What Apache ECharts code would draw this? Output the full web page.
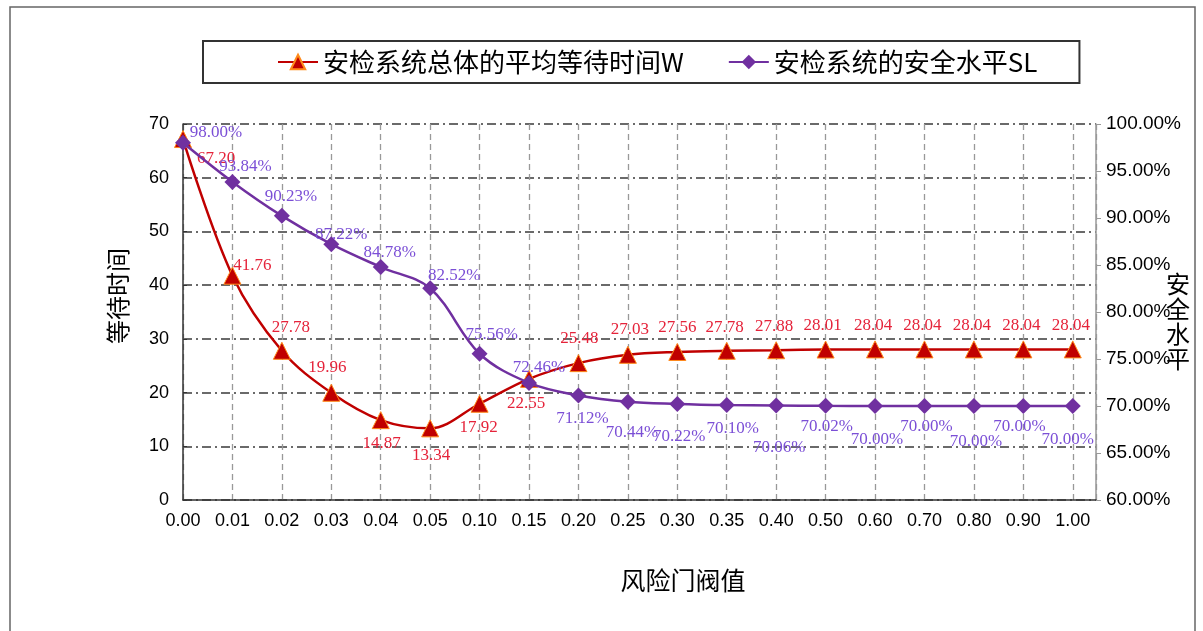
<!DOCTYPE html>
<html>
<head>
<meta charset="utf-8">
<script src="https://cdn.jsdelivr.net/npm/echarts@6/dist/echarts.min.js"></script>
<style>
  html, body { margin: 0; padding: 0; background: #fff; }
  #chart { width: 1203px; height: 631px; }
</style>
</head>
<body>
<div id="chart"></div>
<script>
// Risk threshold categories (x axis)
const thresholds = ['0.00','0.01','0.02','0.03','0.04','0.05','0.10','0.15','0.20','0.25',
                    '0.30','0.35','0.40','0.50','0.60','0.70','0.80','0.90','1.00'];
// Average waiting time of the whole screening system (left axis)
const waitTime = [67.20, 41.76, 27.78, 19.96, 14.87, 13.34, 17.92, 22.55, 25.48, 27.03,
                  27.56, 27.78, 27.88, 28.01, 28.04, 28.04, 28.04, 28.04, 28.04];
// Security level of the screening system, in percent (right axis)
const safetyLevel = [98.00, 93.84, 90.23, 87.22, 84.78, 82.52, 75.56, 72.46, 71.12, 70.44,
                     70.22, 70.10, 70.06, 70.02, 70.00, 70.00, 70.00, 70.00, 70.00];

const seriesNames = ['安检系统总体的平均等待时间W', '安检系统的安全水平SL'];

// Label placement tweaks (pixel offsets from each marker)
const waitLabelOffset = [[33,19],[20,-10],[9,-23],[-4,-25],[1,23],[1,27],[-1,24],[-3,25],[1,-25],[2,-25],
                         [0,-24],[-2,-23],[-2,-24],[-3,-24],[-2,-24],[-2,-24],[-2,-24],[-2,-24],[-2,-24]];
const levelLabelOffset = [[33,-10],[13,-15],[9,-19],[10,-10],[9,-15],[24,-13],[12,-19],[10,-15],[4,23],[4,31],
                          [2,33],[6,23],[3,42],[1,21],[2,34],[2,21],[2,36],[-4,21],[-5,34]];

const chart = echarts.init(document.getElementById('chart'), null, { renderer: 'canvas' });

const axisFont = { fontFamily: 'Liberation Sans', fontSize: 18, color: '#000' };
const cjk = 'Noto Sans CJK SC';

function isWhole(v) { return Math.abs(v - Math.round(v)) < 1e-6; }

chart.setOption({
  animation: false,
  backgroundColor: '#fff',
  graphic: [
    { type: 'rect', shape: { x: 10, y: 7, width: 1185, height: 640 },
      style: { fill: 'none', stroke: '#666', lineWidth: 1.5 }, z: -1 },
    { type: 'text', x: 118, y: 296, rotation: Math.PI / 2,
      style: { text: '等待时间', font: '24px "' + cjk + '"', fill: '#000', align: 'center', verticalAlign: 'middle' } },
    { type: 'text', x: 1178, y: 321,
      style: { text: '安\n全\n水\n平', font: '24px "' + cjk + '"', lineHeight: 25, fill: '#000', align: 'center', verticalAlign: 'middle' } },
    { type: 'text', x: 683, y: 580,
      style: { text: '风险门阀值', font: '25px "' + cjk + '"', fill: '#000', align: 'center', verticalAlign: 'middle' } }
  ],
  legend: {
    data: seriesNames,
    left: 203, top: 41,
    borderColor: '#333', borderWidth: 2,
    padding: [8, 42, 8, 74],
    itemGap: 44, itemWidth: 40, itemHeight: 18,
    textStyle: { fontFamily: cjk, fontSize: 26, color: '#000' }
  },
  grid: { left: 183, right: 107, top: 124, bottom: 131, containLabel: false },
  xAxis: {
    type: 'value', min: 0, max: 18.47, interval: 1,
    axisLine: { lineStyle: { color: '#333', width: 1.5 } },
    axisTick: { show: false },
    axisLabel: Object.assign({}, axisFont, {
      margin: 12,
      showMaxLabel: false,
      formatter: v => isWhole(v) && thresholds[Math.round(v)] !== undefined ? thresholds[Math.round(v)] : ''
    }),
    splitLine: { show: true, lineStyle: { color: '#999', width: 1.3, type: [6, 4] } }
  },
  yAxis: [
    {
      type: 'value', min: 0, max: 70, interval: 10,
      axisLine: { show: true, lineStyle: { color: '#333', width: 1.5 } },
      axisTick: { show: true, inside: true, length: 4, lineStyle: { color: '#333' } },
      axisLabel: Object.assign({}, axisFont, { margin: 14 }),
      splitLine: { show: true, lineStyle: { color: '#3a3a3a', width: 1.5, type: [9, 4, 2, 4] } }
    },
    {
      type: 'value', min: 60, max: 100, interval: 5, position: 'right',
      axisLine: { show: true, lineStyle: { color: '#999', width: 1.5 } },
      axisTick: { show: true, length: 5, lineStyle: { color: '#999' } },
      axisLabel: Object.assign({}, axisFont, { fontSize: 19, margin: 10, formatter: v => v.toFixed(2) + '%' }),
      splitLine: { show: false }
    }
  ],
  series: [
    {
      name: seriesNames[0], type: 'line', yAxisIndex: 0, smooth: 0.35,
      symbol: 'triangle', symbolSize: 17,
      lineStyle: { color: '#c00000', width: 2.5 },
      itemStyle: { color: '#c00000', borderColor: '#ff8a1a', borderWidth: 1 },
      label: {
        show: true, position: 'inside',
        fontFamily: 'Liberation Serif', fontSize: 17, color: '#e5233a',
        formatter: p => p.value[1].toFixed(2)
      },
      data: waitTime.map((v, i) => ({ value: [i, v], label: { offset: waitLabelOffset[i] } })),
      z: 3
    },
    {
      name: seriesNames[1], type: 'line', yAxisIndex: 1, smooth: 0.35,
      symbol: 'diamond', symbolSize: 16,
      lineStyle: { color: '#7030a0', width: 2.5 },
      itemStyle: { color: '#7030a0' },
      label: {
        show: true, position: 'inside',
        fontFamily: 'Liberation Serif', fontSize: 17, color: '#7b4fd6',
        formatter: p => p.value[1].toFixed(2) + '%'
      },
      data: safetyLevel.map((v, i) => ({ value: [i, v], label: { offset: levelLabelOffset[i] } })),
      z: 4
    }
  ]
});
</script>
</body>
</html>
